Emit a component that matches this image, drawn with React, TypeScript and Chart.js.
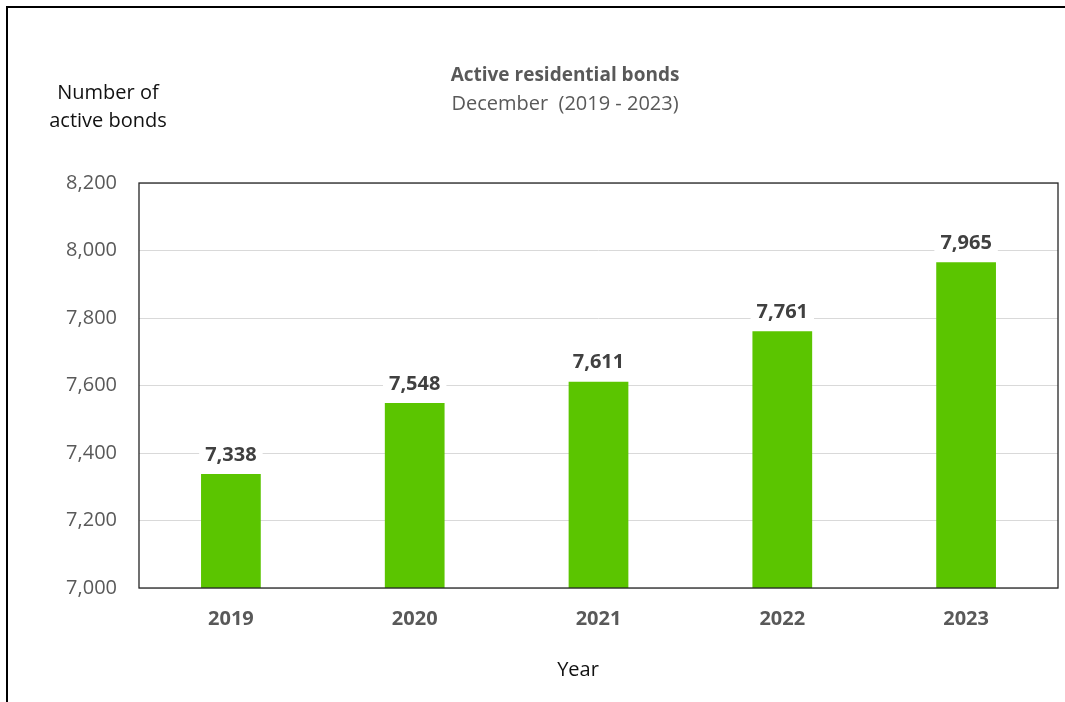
import React, { useEffect, useRef } from "react";
import { Chart, registerables } from "chart.js";

Chart.register(...registerables);

const years = ["2019", "2020", "2021", "2022", "2023"];
const activeBonds = [7338, 7548, 7611, 7761, 7965];
const yMin = 7000;
const yMax = 8200;
const yStep = 200;
const titleText = "Active residential bonds";
const subtitleText = "December  (2019 - 2023)";
const yTitleLines = ["Number of", "active bonds"];
const xTitleText = "Year";

const FONT = "'Open Sans', 'Liberation Sans', sans-serif";

const fmt = (v: number) => v.toLocaleString("en-US");

const overlayPlugin = {
  id: "overlay",
  afterDatasetsDraw(chart: any) {
    const ctx = chart.ctx;
    const meta = chart.getDatasetMeta(0);
    ctx.save();
    ctx.font = `bold 20px ${FONT}`;
    ctx.textAlign = "center";
    ctx.textBaseline = "middle";
    meta.data.forEach((bar: any, i: number) => {
      const label = fmt(activeBonds[i]);
      const w = ctx.measureText(label).width;
      const cy = bar.y - 19;
      ctx.fillStyle = "#ffffff";
      ctx.fillRect(bar.x - w / 2 - 6, cy - 12, w + 12, 24);
      ctx.fillStyle = "#404040";
      ctx.fillText(label, bar.x, cy);
    });
    ctx.restore();
  },
  afterDraw(chart: any) {
    const ctx = chart.ctx;
    const a = chart.chartArea;
    ctx.save();
    ctx.strokeStyle = "#262626";
    ctx.lineWidth = 1.3;
    ctx.strokeRect(a.left, a.top, a.right - a.left, a.bottom - a.top);
    ctx.textAlign = "center";
    ctx.textBaseline = "middle";
    ctx.fillStyle = "#595959";
    ctx.font = `bold 19px ${FONT}`;
    ctx.fillText(titleText, 565, 76);
    ctx.font = `20px ${FONT}`;
    ctx.fillText(subtitleText, 565, 104);
    ctx.fillStyle = "#111111";
    ctx.font = `20px ${FONT}`;
    ctx.fillText(yTitleLines[0], 108, 93);
    ctx.fillText(yTitleLines[1], 108, 121);
    ctx.fillText(xTitleText, 578, 670);
    ctx.restore();
  },
};

export default function App() {
  const ref = useRef<HTMLCanvasElement | null>(null);
  useEffect(() => {
    if (!ref.current) return;
    const chart = new Chart(ref.current, {
      type: "bar",
      data: {
        labels: years,
        datasets: [
          {
            data: activeBonds,
            backgroundColor: "#5bc500",
            borderWidth: 0,
            categoryPercentage: 1,
            barPercentage: 0.325,
          },
        ],
      },
      options: {
        animation: false,
        responsive: false,
        maintainAspectRatio: false,
        layout: { padding: { left: 0, top: 183, right: 7, bottom: 0 } },
        plugins: {
          legend: { display: false },
          title: { display: false },
          tooltip: { enabled: false },
        },
        scales: {
          x: {
            grid: { display: false, drawTicks: false },
            border: { display: false },
            ticks: {
              color: "#595959",
              font: { family: FONT, size: 20, weight: "bold" },
              padding: 19,
            },
            afterFit(scale: any) {
              scale.height = 702 - 588;
            },
          },
          y: {
            min: yMin,
            max: yMax,
            grid: { color: "#d9d9d9", lineWidth: 1, drawTicks: false },
            border: { display: false },
            ticks: {
              stepSize: yStep,
              color: "#595959",
              font: { family: FONT, size: 20 },
              padding: 22,
              callback: (v: any) => fmt(Number(v)),
            },
            afterFit(scale: any) {
              scale.width = 139;
            },
          },
        },
      },
      plugins: [overlayPlugin],
    });
    return () => chart.destroy();
  }, []);

  return (
    <div
      style={{
        position: "fixed",
        left: 0,
        top: 0,
        width: 1065,
        height: 702,
        overflow: "hidden",
        background: "#ffffff",
      }}
    >
      <canvas ref={ref} width={1065} height={702} style={{ display: "block" }} />
      <div
        style={{
          position: "absolute",
          left: 6,
          top: 6,
          width: 1100,
          height: 800,
          borderTop: "2px solid #000",
          borderLeft: "2px solid #000",
          pointerEvents: "none",
        }}
      />
    </div>
  );
}
